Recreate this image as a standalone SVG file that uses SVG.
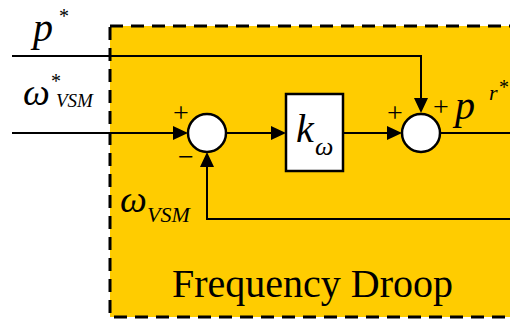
<svg xmlns="http://www.w3.org/2000/svg" width="510" height="324" viewBox="0 0 510 324">
<rect width="510" height="324" fill="#fff"/>
<g id="frame">
<rect x="110" y="26" width="430" height="291" fill="#FFCC00" stroke="#000" stroke-width="3" stroke-dasharray="13 8"/>
<text font-family="Times New Roman" x="172" y="297" font-size="40">Frequency Droop</text>
</g>
<g id="connectors" fill="none" stroke="#000" stroke-width="2">
<polyline points="12,56 421,56 421,100"/>
<line x1="12" y1="133" x2="175" y2="133"/>
<line x1="226" y1="133" x2="273" y2="133"/>
<line x1="343" y1="133" x2="389" y2="133"/>
<line x1="441" y1="133" x2="510" y2="133"/>
<polyline points="510,219 207,219 207,165"/>
<g fill="#000" stroke="none">
<polygon points="414,98 428,98 421,113"/>
<polygon points="173,126 173,140 188,133"/>
<polygon points="271,126 271,140 286,133"/>
<polygon points="387,126 387,140 402,133"/>
<polygon points="200,167 214,167 207,152"/>
</g>
</g>
<g id="sum1">
<circle cx="207" cy="133" r="19" fill="#fff" stroke="#000" stroke-width="2.5"/>
<text font-family="Times New Roman" font-size="28" x="173" y="122">+</text>
<text font-family="Times New Roman" font-size="28" x="178" y="166">&#8722;</text>
</g>
<g id="gain">
<rect x="286" y="94" width="57" height="77" fill="#fff" stroke="#000" stroke-width="2.5"/>
<text font-family="Times New Roman" font-style="italic" x="296" y="142" font-size="40">k</text>
<text font-family="Times New Roman" font-style="italic" x="315" y="155" font-size="26">&#969;</text>
</g>
<g id="sum2">
<circle cx="421" cy="133" r="19" fill="#fff" stroke="#000" stroke-width="2.5"/>
<text font-family="Times New Roman" font-size="28" x="387" y="122">+</text>
<text font-family="Times New Roman" font-size="28" x="433" y="116">+</text>
</g>
<g id="labels">
<text font-family="Times New Roman" font-style="italic" x="33" y="41" font-size="40">p</text>
<text font-family="Times New Roman" x="59" y="23" font-size="20">*</text>
<text font-family="Times New Roman" font-style="italic" x="23" y="105" font-size="38">&#969;</text>
<text font-family="Times New Roman" x="51" y="88" font-size="20">*</text>
<text font-family="Times New Roman" font-style="italic" x="56" y="107" font-size="19">VSM</text>
<text font-family="Times New Roman" font-style="italic" x="120" y="212" font-size="38">&#969;</text>
<text font-family="Times New Roman" font-style="italic" x="147" y="222" font-size="22">VSM</text>
<text font-family="Times New Roman" font-style="italic" x="455" y="119" font-size="40">p</text>
<text font-family="Times New Roman" font-style="italic" x="489" y="100" font-size="22">r</text>
<text font-family="Times New Roman" x="499" y="94" font-size="20">*</text>
</g>
</svg>
